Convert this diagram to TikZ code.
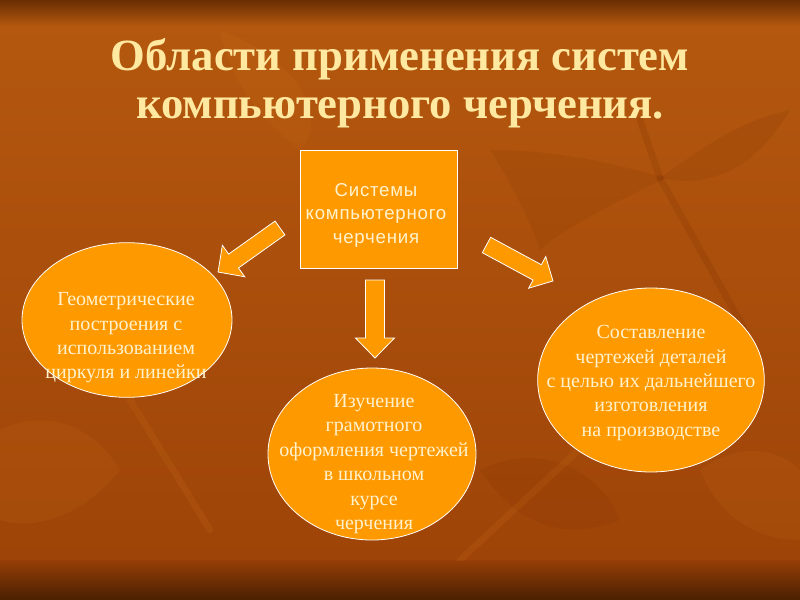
\documentclass[tikz,border=0pt]{standalone}
\usepackage{fontspec}
\setmainfont{Liberation Serif}
\newfontfamily\arialfont[LetterSpace=4]{Liberation Sans}
\definecolor{bgtop}{RGB}{106,46,3}
\definecolor{bgmain}{RGB}{180,88,15}
\definecolor{bglow}{RGB}{158,68,8}
\definecolor{bgbotA}{RGB}{150,62,6}
\definecolor{bgbotB}{RGB}{74,32,2}
\definecolor{leafdark}{RGB}{120,45,0}
\definecolor{leaflight}{RGB}{215,120,30}
\definecolor{boxorange}{RGB}{255,153,0}
\definecolor{titlecol}{RGB}{255,232,160}
\definecolor{textcol}{RGB}{255,242,205}
\tikzset{
  titlestyle/.style={font=\bfseries\fontsize{33.5}{40}\selectfont, text=titlecol, inner sep=0pt},
  boxstyle/.style={draw=white, line width=0.75pt, fill=boxorange, inner sep=0pt},
  ellstyle/.style={ellipse, draw=white, line width=0.6pt, fill=boxorange, inner sep=0pt},
  boxtext/.style={font=\arialfont\fontsize{14}{17.6}\selectfont, text=textcol, align=center, inner sep=0pt},
  elltext/.style={font=\fontsize{15}{18.3}\selectfont, text=textcol, align=center, inner sep=0pt},
  arrowstyle/.style={draw=white, line width=0.6pt, fill=boxorange, line join=miter},
  leafD/.style={fill=leafdark, fill opacity=0.13, draw=none},
  leafL/.style={fill=leaflight, fill opacity=0.12, draw=none},
  stem/.style={draw=leafdark, draw opacity=0.18, line width=5pt, line cap=round}
}
\usetikzlibrary{shapes.geometric}
\newcommand\blockarr[8]{%
  \begin{scope}[shift={(#2,#3)}, rotate=#4]
    \coordinate (#1-tail) at (0,0);
    \coordinate (#1-tip) at (#5,0);
    \draw[arrowstyle] (0,{-#6/2}) -- ({#5-#8},{-#6/2}) -- ({#5-#8},{-#7/2}) -- (#1-tip)
      -- ({#5-#8},{#7/2}) -- ({#5-#8},{#6/2}) -- (0,{#6/2}) -- cycle;
  \end{scope}}
\begin{document}
\begin{tikzpicture}[x=0.75pt,y=-0.75pt]
% background
\shade[top color=bgmain, bottom color=bglow] (0,20) rectangle (800,561);
\shade[top color=bgtop, bottom color=bgmain] (0,0) rectangle (800,26);
\shade[top color=bgbotA, bottom color=bgbotB] (0,560) rectangle (800,600);
\useasboundingbox (0,0) rectangle (800,600);
% faint leaves
\begin{scope}
\clip (0,0) rectangle (800,560);
\fill[leafD] (490,150) .. controls (560,150) and (620,165) .. (665,178) .. controls (620,200) and (560,230) .. (540,250) .. controls (530,220) and (510,180) .. (490,150) -- cycle;
\fill[leafD] (660,178) .. controls (700,150) and (740,120) .. (790,110) .. controls (760,160) and (720,190) .. (660,178) -- cycle;
\draw[stem] (660,178) -- (745,330);
\draw[stem] (660,178) -- (640,120);
\fill[leafL] (0,430) .. controls (40,410) and (90,420) .. (120,470) .. controls (80,520) and (30,530) .. (0,520) -- cycle;
\fill[leafD] (480,470) .. controls (540,440) and (600,470) .. (620,520) .. controls (570,540) and (520,530) .. (480,470) -- cycle;
\fill[leafL] (700,470) .. controls (740,440) and (780,450) .. (800,470) -- (800,540) .. controls (760,540) and (720,520) .. (700,470) -- cycle;
\draw[stem, draw=leaflight, draw opacity=0.15] (130,400) -- (210,530);
\draw[stem, draw=leaflight, draw opacity=0.15] (460,560) -- (600,430);
\fill[leafL] (220,30) .. controls (300,60) and (330,120) .. (300,150) .. controls (260,120) and (230,80) .. (220,30) -- cycle;
\end{scope}

\node[titlestyle, anchor=base] (t1) at (400,70) {Области применения систем};
\node[titlestyle, anchor=base] (t2) at (400,118) {компьютерного черчения.};

\node[boxstyle, minimum width=117.75pt, minimum height=88.5pt] (sys) at (378.5,209) {};
\node[boxtext] (systxt) at (376,215) {Системы\\компьютерного\\черчения};

\node[ellstyle, minimum width=157.5pt, minimum height=116pt] (e1) at (127,320) {};
\node[elltext] (e1txt) at (126,338) {Геометрические\\построения с\\использованием\\циркуля и линейки};

\node[ellstyle, minimum width=156pt, minimum height=129pt] (e2) at (372,454) {};
\node[elltext] (e2txt) at (374,464) {Изучение\\грамотного\\оформления чертежей\\в школьном\\курсе\\черчения};

\node[ellstyle, minimum width=170pt, minimum height=138pt] (e3) at (651,380) {};
\node[elltext] (e3txt) at (651,383) {Составление\\чертежей деталей\\с целью их дальнейшего\\изготовления\\на производстве};

\blockarr{a1}{280}{228}{215.4}{76}{17}{38.6}{19}
\blockarr{a2}{486.5}{245}{-28.4}{75.6}{17.5}{36}{18}
\blockarr{a3}{375}{280}{-90}{78}{19}{39}{20}
\end{tikzpicture}
\end{document}
